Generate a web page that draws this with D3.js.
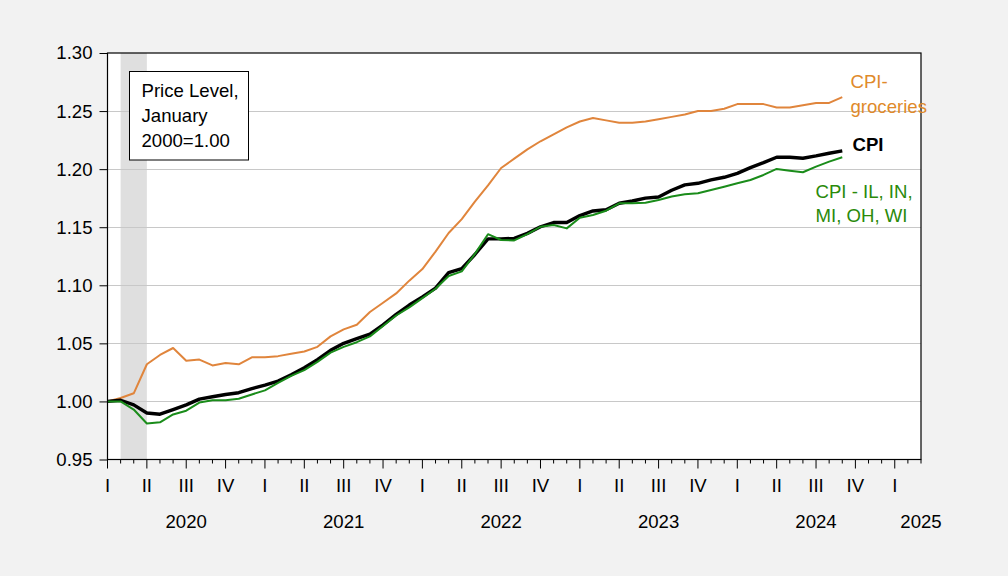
<!DOCTYPE html>
<html>
<head>
<meta charset="utf-8">
<script src="https://cdn.jsdelivr.net/npm/d3@7"></script>
<style>
  html, body { margin: 0; padding: 0; background: #F2F2F2; }
  svg { display: block; font-family: "Liberation Sans", Arial, sans-serif; }
</style>
</head>
<body>
<svg id="chart" width="1008" height="576"></svg>
<script>
// ---- data (monthly, starting January 2020) ----
const startYear = 2020;
const groceries = [1.000,1.003,1.007,1.032,1.040,1.046,1.035,1.036,1.031,1.033,1.032,1.038,
  1.038,1.039,1.041,1.043,1.047,1.056,1.062,1.066,1.077,1.085,1.093,1.104,
  1.114,1.129,1.145,1.157,1.172,1.186,1.201,1.209,1.217,1.224,1.230,1.236,
  1.241,1.244,1.242,1.240,1.240,1.241,1.243,1.245,1.247,1.250,1.250,1.252,
  1.256,1.256,1.256,1.253,1.253,1.255,1.257,1.257,1.262];
const cpi = [1.000,1.001,0.997,0.990,0.989,0.993,0.997,1.002,1.004,1.006,1.0075,1.011,
  1.014,1.0175,1.023,1.029,1.036,1.044,1.050,1.054,1.058,1.066,1.075,1.083,
  1.090,1.0975,1.111,1.1144,1.1265,1.140,1.140,1.1404,1.1447,1.1504,1.154,1.154,
  1.160,1.164,1.165,1.1706,1.1726,1.175,1.176,1.1818,1.1865,1.1878,1.1907,1.193,
  1.1964,1.2013,1.2056,1.2102,1.2102,1.2094,1.2114,1.2137,1.2157];
const cpiMidwest = [1.000,1.000,0.993,0.981,0.982,0.9888,0.992,0.999,1.001,1.001,1.0023,1.006,
  1.0095,1.016,1.022,1.027,1.034,1.042,1.047,1.051,1.056,1.065,1.074,1.081,
  1.089,1.097,1.108,1.112,1.127,1.144,1.139,1.1386,1.1441,1.1504,1.1519,1.149,
  1.1582,1.1605,1.1642,1.1706,1.1706,1.1711,1.1734,1.1765,1.1783,1.1792,1.182,1.1849,
  1.1878,1.1907,1.195,1.2002,1.1987,1.1973,1.2022,1.2065,1.2102];
const yTicks = [0.95,1.00,1.05,1.10,1.15,1.20,1.25,1.30];
const quarterLabels = ["I","II","III","IV"];
const years = [2020,2021,2022,2023,2024,2025];
const recession = [1, 3]; // Feb 2020 - Apr 2020 (month index)
const lastMonthIndex = 62; // through March 2025
const boxLines = ["Price Level,", "January", "2000=1.00"];

// ---- layout ----
const svg = d3.select("#chart");
const L = 107.5, R = 921, T = 53, B = 459.5;
const x = d3.scaleLinear().domain([0, lastMonthIndex]).range([L, R]);
const y = d3.scaleLinear().domain([0.95, 1.30]).range([B, T]);
const FS = 18.6;

svg.append("rect").attr("width",1008).attr("height",576).attr("fill","#F2F2F2");
svg.append("rect").attr("x",L).attr("y",T).attr("width",R-L).attr("height",B-T).attr("fill","#fff");

// recession shading
svg.append("rect")
  .attr("x", x(recession[0])).attr("y", T)
  .attr("width", x(recession[1]) - x(recession[0])).attr("height", B - T)
  .attr("fill", "#DFDFDF");

// gridlines
svg.append("g").selectAll("line").data(yTicks.filter(v => v > 0.95 && v < 1.30)).join("line")
  .attr("x1", L).attr("x2", R)
  .attr("y1", d => Math.round(y(d)) + 0.5).attr("y2", d => Math.round(y(d)) + 0.5)
  .attr("stroke", "#C8C8C8").attr("stroke-width", 1);

// lines
const line = d3.line().x((d, i) => x(i)).y(d => y(d));
svg.append("path").datum(groceries).attr("d", line)
  .attr("fill","none").attr("stroke","#E0853C").attr("stroke-width",2).attr("stroke-linejoin","round");
svg.append("path").datum(cpi).attr("d", line)
  .attr("fill","none").attr("stroke","#000").attr("stroke-width",3.4).attr("stroke-linejoin","round");
svg.append("path").datum(cpiMidwest).attr("d", line)
  .attr("fill","none").attr("stroke","#1A8C1A").attr("stroke-width",2).attr("stroke-linejoin","round");

// frame
svg.append("rect").attr("x",L).attr("y",T).attr("width",R-L).attr("height",B-T)
  .attr("fill","none").attr("stroke","#000").attr("stroke-width",1.2);

// y axis
const yAxis = d3.axisLeft(y).tickValues(yTicks).tickFormat(d3.format(".2f")).tickSize(8).tickPadding(7);
const gy = svg.append("g").attr("transform", `translate(${L},0)`).call(yAxis);
gy.select(".domain").remove();
gy.selectAll("text").attr("font-size", FS).attr("fill", "#000").attr("font-family", "Liberation Sans, Arial, sans-serif");
gy.selectAll("line").attr("stroke", "#000");

// x axis: monthly ticks, quarterly larger
const months = d3.range(0, lastMonthIndex + 1);
const gx = svg.append("g");
gx.selectAll("line").data(months).join("line")
  .attr("x1", d => x(d)).attr("x2", d => x(d))
  .attr("y1", B).attr("y2", d => B + (d % 3 === 0 ? 9 : 4))
  .attr("stroke", "#000").attr("stroke-width", 1);
gx.selectAll("text.q").data(months.filter(d => d % 3 === 0 && d <= 60)).join("text")
  .attr("class","q")
  .attr("x", d => x(d)).attr("y", 491.5)
  .attr("text-anchor","middle").attr("font-size", FS).attr("fill","#000")
  .text(d => quarterLabels[(d % 12) / 3]);
gx.selectAll("text.yr").data(years).join("text")
  .attr("class","yr")
  .attr("x", d => x(Math.min((d - startYear) * 12 + 6, lastMonthIndex))).attr("y", 527.5)
  .attr("text-anchor","middle").attr("font-size", FS).attr("fill","#000")
  .text(d => d);

// legend box
const box = svg.append("g");
box.append("rect").attr("x",129.5).attr("y",71.5).attr("width",119).attr("height",88.5)
  .attr("fill","#fff").attr("stroke","#000").attr("stroke-width",1);
box.selectAll("text").data(boxLines).join("text")
  .attr("x",141.5).attr("y",(d,i) => 96.8 + i*25)
  .attr("font-size", FS).attr("fill","#000").text(d => d);

// series labels
const lab = svg.append("g").attr("font-size", FS);
lab.append("text").attr("x",850.5).attr("y",88.3).attr("fill","#E08A2A").text("CPI-");
lab.append("text").attr("x",850.5).attr("y",113.3).attr("fill","#E08A2A").text("groceries");
lab.append("text").attr("x",852.5).attr("y",150.7).attr("fill","#000").attr("font-weight","bold").text("CPI");
lab.append("text").attr("x",815.5).attr("y",197.7).attr("fill","#2A8A0A").text("CPI - IL, IN,");
lab.append("text").attr("x",815.5).attr("y",222.3).attr("fill","#2A8A0A").text("MI, OH, WI");
</script>
</body>
</html>
